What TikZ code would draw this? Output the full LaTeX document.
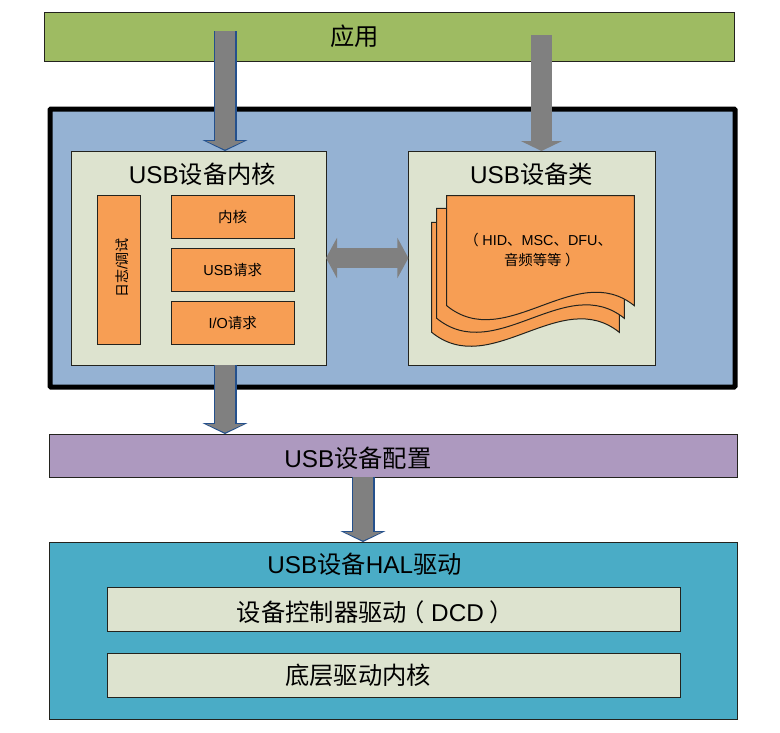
\documentclass[tikz,border=0pt]{standalone}
\usepackage{fontspec}
\setmainfont{Liberation Sans}
\newfontfamily\cjk{Noto Sans CJK SC}
\usetikzlibrary{arrows.meta}
\definecolor{appgreen}{RGB}{158,187,98}
\definecolor{stackblue}{RGB}{149,178,211}
\definecolor{paleolive}{RGB}{221,227,207}
\definecolor{sheetorange}{RGB}{247,158,84}
\definecolor{cfgpurple}{RGB}{173,153,191}
\definecolor{halteal}{RGB}{74,172,198}
\definecolor{linkgray}{RGB}{128,128,128}
\definecolor{linkblue}{RGB}{36,80,140}
\definecolor{boxline}{RGB}{35,35,30}
% full-width brackets with the stroke in the middle of the em
\newcommand{\lpar}{\kern-.25em{\cjk （}\kern.25em}
\newcommand{\rpar}{\kern.25em{\cjk ）}\kern-.25em}
\newcommand{\low}[1]{\raisebox{-2pt}{#1}}
\tikzset{
  box/.style={
    draw=boxline,
    line width=1pt,
    rectangle,
    inner sep=0pt,
    outer sep=0pt,
    align=center
  },
  inner/.style={box, fill=sheetorange, font=\fontsize{14.5}{16}\selectfont},
  title/.style={font=\fontsize{24.3}{28}\selectfont, text=black, inner sep=0pt},
  sheet/.style={draw=boxline, line width=1pt, fill=sheetorange},
  linkout/.style={line width=23pt, draw=linkblue, fill=linkblue,
    -{Triangle[length=11pt,width=45pt]}},
  linkin/.style={line width=20pt, draw=linkgray, fill=linkgray, shorten >=1.4pt,
    -{Triangle[length=8.5pt,width=37pt]}},
  plainlink/.style={line width=21pt, draw=linkgray,
    -{Triangle[length=10pt,width=41pt]}},
  bothlink/.style={line width=20pt, draw=linkgray,
    {Triangle[length=11pt,width=40pt]}-{Triangle[length=11pt,width=40pt]}}
}
\begin{document}
\begin{tikzpicture}[x=1pt,y=-1pt]
\useasboundingbox (0,0) rectangle (780,732);

% Top bar and stack frame
\node[box, fill=appgreen, minimum width=690.6pt, minimum height=49pt] (app) at (389.6,36.5) {};
\node[title] (apptext) at (354.5,36) {{\cjk 应用}};
\node[box, fill=stackblue, draw=black, line width=5pt, rounded corners=1pt,
  minimum width=685pt, minimum height=278pt] (stack) at (392.5,248) {};

% Core block
\node[box, fill=paleolive, minimum width=254.6pt, minimum height=214pt] (core) at (198.7,258) {};
\node[title] (coretitle) at (202.5,174) {USB{\cjk 设备内核}};
\node[inner, minimum width=42.6pt, minimum height=149pt] (logbox) at (118.7,269.5) {};
\node[font=\fontsize{14}{16}\selectfont, rotate=90, inner sep=0pt] (logtext) at (122,268)
  {{\cjk 日志}/{\cjk 调试}};
\node[inner, minimum width=122.6pt, minimum height=43pt] (kernel) at (232.7,216.5) {\low{\cjk 内核}};
\node[inner, minimum width=122.6pt, minimum height=43pt] (usbreq) at (232.7,269.5) {\low{USB{\cjk 请求}}};
\node[inner, minimum width=122.6pt, minimum height=43pt] (ioreq) at (232.7,322.5) {\low{I/O{\cjk 请求}}};

% Class block
\node[box, fill=paleolive, minimum width=246.6pt, minimum height=214pt] (cls) at (531.7,258) {};
\node[title] (clstitle) at (531.5,174) {USB{\cjk 设备类}};
\foreach \dx/\dy in {431.7/222.3, 436.7/208.3, 446.7/195.7} {
  \draw[sheet, shift={(\dx,\dy)}] (0,0) -- (187.6,0) -- (187.6,110)
    .. controls (129,63) and (59,158) .. (0,110) -- cycle;
}
\node[font=\fontsize{14.4}{19.5}\selectfont, align=center, inner sep=0pt] (clstext) at (540,250)
  {\lpar HID{\cjk 、}MSC{\cjk 、}DFU{\cjk 、}\\{\cjk 音频等等}\rpar};

% Lower bars
\node[box, fill=cfgpurple, minimum width=687.6pt, minimum height=43pt] (cfg) at (393.7,455.5) {};
\node[title] (cfgtext) at (358,458) {USB{\cjk 设备配置}};
\node[box, fill=halteal, minimum width=687.6pt, minimum height=177pt] (hal) at (393.7,630.5) {};
\node[title] (haltitle) at (364.5,564) {USB{\cjk 设备}HAL{\cjk 驱动}};
\node[box, fill=paleolive, minimum width=572.6pt, minimum height=44pt] (dcd) at (393.7,609) {};
\node[title] (dcdtext) at (372.5,612) {{\cjk 设备控制器驱动}\lpar DCD\rpar};
\node[box, fill=paleolive, minimum width=572.6pt, minimum height=44pt] (lowcore) at (393.7,675) {};
\node[title] (lowtext) at (358,675) {{\cjk 底层驱动内核}};

% Links
\coordinate (appout) at (225,31);
\coordinate (coreout) at (225,365);
\coordinate (cfgout) at (363,477);
\coordinate (clsin) at (541.5,35);

\foreach \from/\to in {appout/core, coreout/cfg, cfgout/hal} {
  \draw[linkout] (\from) -- (\from |- \to.north);
  \draw[linkin] (\from) -- (\from |- \to.north);
}
\draw[plainlink] (clsin) -- (clsin |- cls.north);
\draw[bothlink] (core.east) -- (cls.west);

\end{tikzpicture}
\end{document}
